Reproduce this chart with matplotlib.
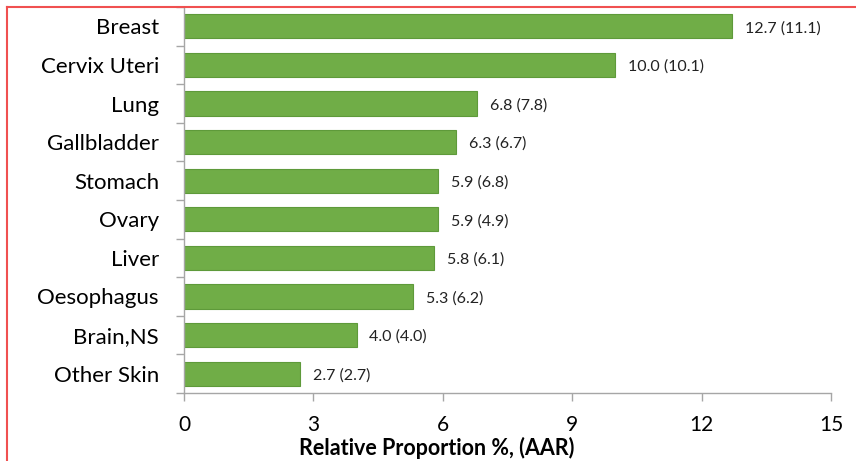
import matplotlib.pyplot as plt
from matplotlib.lines import Line2D
import numpy as np

plt.rcParams['font.family'] = ['Lato', 'DejaVu Sans']

sites = ['Breast', 'Cervix Uteri', 'Lung', 'Gallbladder', 'Stomach', 'Ovary',
         'Liver', 'Oesophagus', 'Brain,NS', 'Other Skin']
rel_prop = [12.7, 10.0, 6.8, 6.3, 5.9, 5.9, 5.8, 5.3, 4.0, 2.7]
aar = [11.1, 10.1, 7.8, 6.7, 6.8, 4.9, 6.1, 6.2, 4.0, 2.7]

W, H = 856, 461
fig = plt.figure(figsize=(W / 100, H / 100), dpi=100)
ax = fig.add_axes([184 / W, 1 - 393 / H, (831 - 184) / W, (393 - 7) / H])

y = np.arange(len(sites))
ax.barh(y, rel_prop, height=0.63, color='#70AD47', edgecolor='#5E9A3A', linewidth=0.8)
for yi, v, a in zip(y, rel_prop, aar):
    ax.text(v + 0.3, yi + 0.05, '%.1f (%.1f)' % (v, a), va='center', ha='left',
            fontsize=11.5, color='#222222')

ax.set_ylim(len(sites) - 0.5, -0.5)
ax.set_xlim(0, 15)
ax.set_xticks([0, 3, 6, 9, 12, 15])
ax.set_yticks(y)
ax.set_yticklabels(sites, fontsize=16)
ax.set_yticks(np.arange(-0.5, len(sites), 1), minor=True)
ax.tick_params(axis='y', which='major', length=0, pad=18)
ax.tick_params(axis='y', which='minor', length=6, color='#A6A6A6', width=1)
ax.tick_params(axis='x', length=6, color='#A6A6A6', width=1, labelsize=15, pad=10)
for s in ['top', 'right']:
    ax.spines[s].set_visible(False)
for s in ['left', 'bottom']:
    ax.spines[s].set_color('#A6A6A6')
    ax.spines[s].set_linewidth(1)
ax.set_xlabel('Relative Proportion %, (AAR)', fontsize=15.5, fontweight='bold')
ax.xaxis.set_label_coords(0.39, -0.113)

# red frame around the figure
fig.add_artist(Line2D([7.5 / W, 1.0], [1 - 7.5 / H, 1 - 7.5 / H], color='#F05050', lw=1.5,
                      transform=fig.transFigure))
fig.add_artist(Line2D([7.5 / W, 7.5 / W], [0, 1 - 7.5 / H], color='#F05050', lw=1.5,
                      transform=fig.transFigure))

fig.savefig('out.png', dpi=100)
